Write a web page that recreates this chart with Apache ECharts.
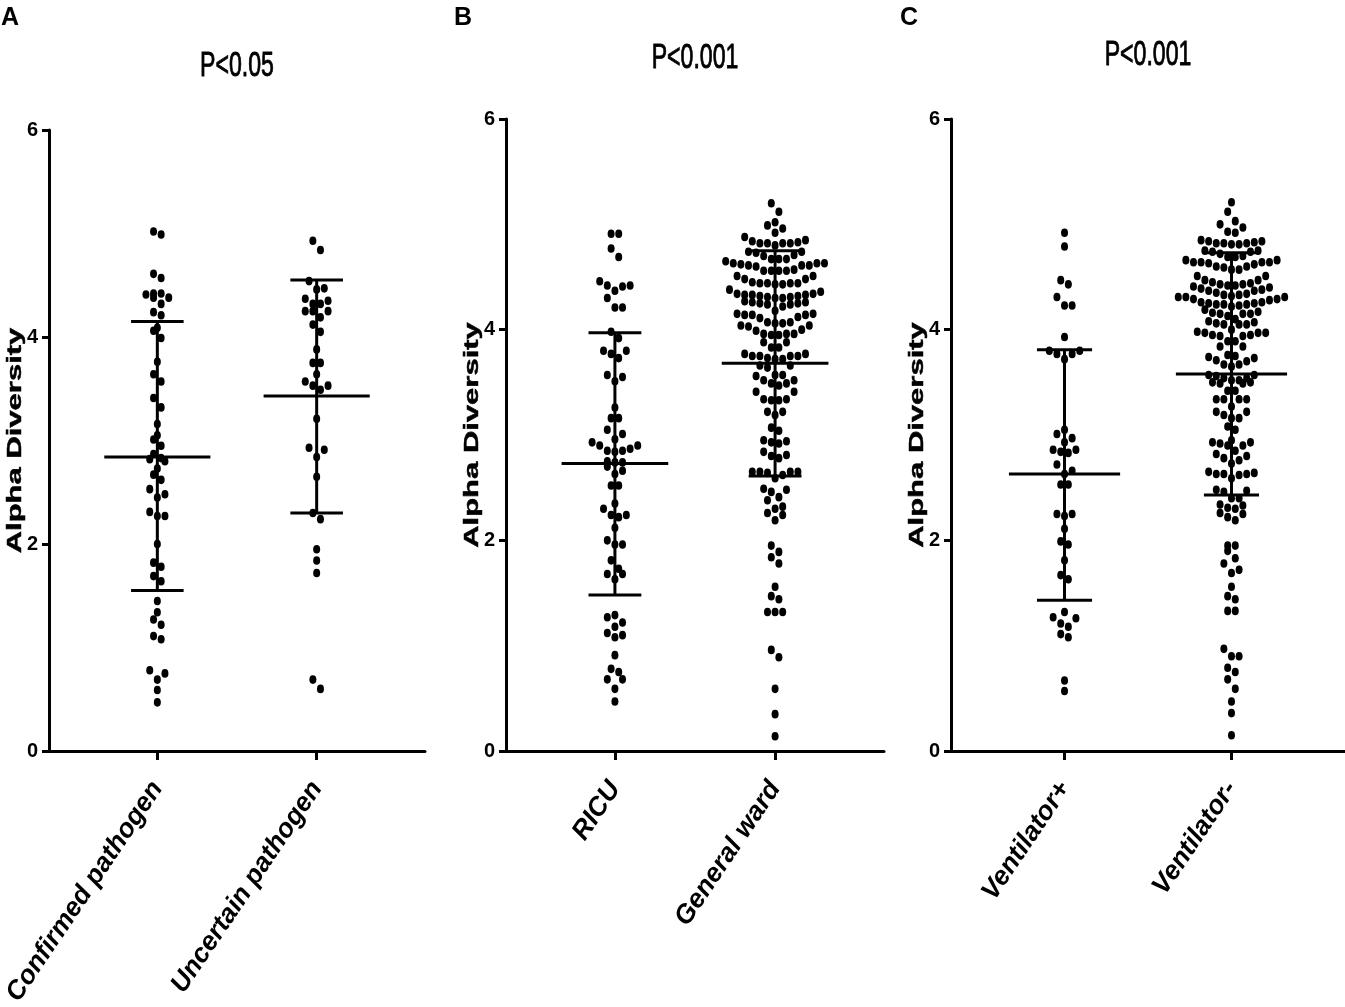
<!DOCTYPE html>
<html>
<head>
<meta charset="utf-8">
<title>Alpha Diversity</title>
<script src="https://cdn.jsdelivr.net/npm/echarts@6/dist/echarts.min.js"></script>
<style>
  html, body { margin: 0; padding: 0; background: #fff; }
  #main { width: 1345px; height: 1007px; }
</style>
</head>
<body>
<div id="main"></div>
<script>
// values (Alpha Diversity per sample)
var confirmedPathogen = [5.02, 4.99, 4.61, 4.57, 4.42, 4.38, 4.32, 4.38, 4.41, 4.42, 4.24, 4.21, 4.09, 4.06, 3.99,
    3.76, 3.64, 3.57, 3.41, 3.32, 3.16, 3.05, 3.01, 2.95, 2.87, 2.83, 2.82, 2.80, 2.73, 2.67, 2.62, 2.53, 2.48,
    2.45, 2.31, 2.27, 2.27, 2.00, 1.82, 1.78, 1.69, 1.64, 1.45, 1.34, 1.27, 1.22, 1.11, 1.08, 0.78, 0.75, 0.69,
    0.59, 0.47];
var uncertainPathogen = [4.93, 4.84, 4.54, 4.46, 4.47, 4.37, 4.32, 4.32, 4.35, 4.25, 4.25, 4.25, 4.19, 4.12, 4.05,
    3.88, 3.75, 3.75, 3.64, 3.57, 3.53, 3.49, 3.53, 3.21, 2.93, 2.91, 2.84, 2.65, 2.30, 2.24, 1.95, 1.84, 1.72,
    0.69, 0.60];
var ricu = [4.91, 4.91, 4.77, 4.69, 4.46, 4.42, 4.42, 4.41, 4.37, 4.30, 4.21, 4.21, 3.98, 3.92, 3.80, 3.80, 3.77,
    3.73, 3.57, 3.55, 3.51, 3.26, 3.16, 3.16, 3.05, 3.01, 2.96, 2.93, 2.90, 2.90, 2.87, 2.85, 2.85, 2.84, 2.75,
    2.74, 2.74, 2.70, 2.66, 2.63, 2.52, 2.52, 2.35, 2.30, 2.24, 2.24, 2.22, 2.12, 2.00, 1.96, 1.96, 1.81, 1.73,
    1.68, 1.68, 1.63, 1.29, 1.27, 1.22, 1.18, 1.12, 1.10, 1.08, 0.91, 0.78, 0.75, 0.68, 0.68, 0.59, 0.47];
var generalWard = [5.20, 5.12, 5.02, 4.99, 4.96, 4.92, 4.88,
    4.85, 4.84, 4.83, 4.82, 4.82, 4.82, 4.82, 4.80,
    4.74, 4.74, 4.73, 4.71, 4.70, 4.67, 4.67, 4.67,
    4.65, 4.63, 4.63, 4.63, 4.62, 4.61, 4.61, 4.61, 4.60, 4.57, 4.56, 4.56, 4.56, 4.56,
    4.51, 4.51, 4.48, 4.48, 4.45, 4.44, 4.44, 4.44, 4.44, 4.43, 4.43,
    4.38, 4.36, 4.34, 4.34, 4.33, 4.33, 4.33, 4.32, 4.32, 4.31, 4.31, 4.30, 4.30,
    4.27, 4.26, 4.26, 4.25, 4.25, 4.24, 4.24, 4.22,
    4.18, 4.15, 4.15, 4.14, 4.14, 4.14, 4.12, 4.11,
    4.07, 4.07, 4.06, 4.06, 4.04, 4.04, 4.03,
    4.00, 3.99, 3.96, 3.96, 3.96, 3.95, 3.95,
    3.88, 3.88, 3.83, 3.83,
    3.77, 3.77, 3.75, 3.75, 3.75, 3.75, 3.73, 3.72, 3.72,
    3.66, 3.66, 3.64,
    3.57, 3.57, 3.56, 3.52, 3.52, 3.49, 3.49, 3.47,
    3.41, 3.41, 3.34, 3.34, 3.33, 3.33,
    3.22, 3.22, 3.19, 3.07, 3.04,
    2.95, 2.94, 2.93, 2.92, 2.84, 2.81, 2.80, 2.78,
    2.65, 2.65, 2.65, 2.65, 2.64, 2.62, 2.59,
    2.49, 2.48, 2.46, 2.41, 2.38, 2.32, 2.30, 2.26, 2.24, 2.19,
    1.95, 1.89, 1.84, 1.78, 1.56, 1.47, 1.44, 1.32, 1.32, 1.32, 0.96, 0.89, 0.59, 0.35, 0.14];
var ventilatorPlus = [4.92, 4.79, 4.47, 4.43, 4.31, 4.23, 4.23, 3.93, 3.80, 3.80, 3.77, 3.77, 3.72, 3.05, 3.01,
    2.97, 2.93, 2.86, 2.86, 2.84, 2.83, 2.72, 2.66, 2.63, 2.53, 2.53, 2.25, 2.25, 2.23, 2.11, 1.99, 1.96, 1.81,
    1.67, 1.63, 1.32, 1.27, 1.26, 1.21, 1.18, 1.11, 1.08, 0.67, 0.57];
var ventilatorMinus = [5.21, 5.12, 5.03, 5.00, 4.97, 4.93, 4.92,
    4.85, 4.84, 4.82, 4.82, 4.81, 4.81, 4.82, 4.83, 4.84,
    4.75, 4.74, 4.72, 4.70, 4.69, 4.69, 4.74, 4.75,
    4.66, 4.64, 4.64, 4.63, 4.60, 4.57, 4.57, 4.59, 4.60, 4.62, 4.64, 4.64, 4.66,
    4.51, 4.47, 4.45, 4.43, 4.42, 4.41, 4.39, 4.40, 4.43, 4.42, 4.44, 4.47, 4.51,
    4.37, 4.33, 4.32, 4.31, 4.31, 4.29, 4.28, 4.29, 4.31, 4.33, 4.34, 4.35, 4.37, 4.38,
    4.26, 4.25, 4.24, 4.23, 4.24, 4.22, 4.24, 4.25, 4.26,
    4.19, 4.16, 4.15, 4.15, 4.17, 4.15,
    4.13, 4.08, 4.05, 4.05, 4.05, 4.06, 4.07, 4.10,
    4.00, 3.97, 3.95, 3.94, 3.94, 3.97, 3.95, 3.97, 3.98,
    3.89, 3.89, 3.84, 3.84,
    3.76, 3.74, 3.71, 3.67, 3.67, 3.65, 3.70, 3.73, 3.75,
    3.57, 3.54, 3.52, 3.50, 3.49, 3.49, 3.50, 3.52, 3.54, 3.56, 3.57,
    3.42, 3.42, 3.34, 3.34, 3.34, 3.34,
    3.27, 3.22, 3.16, 3.16, 3.19, 3.22, 3.05, 3.08,
    2.93, 2.92, 2.90, 2.85, 2.90, 2.93, 2.95,
    2.82, 2.78, 2.73, 2.76, 2.80,
    2.64, 2.63, 2.62, 2.59, 2.63, 2.63, 2.65,
    2.48, 2.46, 2.47, 2.40, 2.40, 2.30, 2.34, 2.33, 2.31, 2.25, 2.19, 2.22, 2.26,
    1.95, 1.95, 1.90, 1.83, 1.78, 1.72, 1.69, 1.56, 1.47, 1.44, 1.33, 1.33,
    0.97, 0.90, 0.90, 0.79, 0.75, 0.68, 0.59, 0.47, 0.36, 0.15];

// group means and mean +/- SD as drawn
var meanA = [2.84, 3.43], upperA = [4.15, 4.55], lowerA = [1.55, 2.30];
var meanB = [2.73, 3.68], upperB = [3.97, 4.75], lowerB = [1.48, 2.61];
var meanC = [2.63, 3.58], upperC = [3.81, 4.73], lowerC = [1.43, 2.43];

var catsA = ['Confirmed pathogen', 'Uncertain pathogen'];
var catsB = ['RICU', 'General ward'];
var catsC = ['Ventilator+', 'Ventilator-'];
var pTexts = ['P<0.05', 'P<0.001', 'P<0.001'];
var yTitle = 'Alpha Diversity';
var yTicks = [0, 2, 4, 6];

var SANS = "'Liberation Sans', Arial, sans-serif";
var CAT_POS = [0.68, 1.68];
var X_MAX = 2.36;
var DOT_GAP = 7.6;   // px between neighbours in a row
var ROW_H = 10;      // px, values closer than this share a row

var panels = [
    { left: 49, top: 130, width: 376, height: 621, cats: catsA, groups: [confirmedPathogen, uncertainPathogen], mean: meanA, up: upperA, lo: lowerA },
    { left: 506, top: 119, width: 378, height: 632, cats: catsB, groups: [ricu, generalWard], mean: meanB, up: upperB, lo: lowerB },
    { left: 951, top: 119, width: 394, height: 632, cats: catsC, groups: [ventilatorPlus, ventilatorMinus], mean: meanC, up: upperC, lo: lowerC }
];

// prism style dot layout: bin close values into a row, spread the row from the centre out
function rowOffsets(vals, pxPerY) {
    var idx = vals.map(function (v, i) { return i; }).sort(function (a, b) { return vals[a] - vals[b]; });
    var out = [];
    var k = 0;
    while (k < idx.length) {
        var row = [idx[k]], start = vals[idx[k]];
        k++;
        while (k < idx.length && (vals[idx[k]] - start) * pxPerY < ROW_H) { row.push(idx[k]); k++; }
        var n = row.length;
        row.forEach(function (id, j) {
            var slot = n % 2 ? Math.ceil(j / 2) * (j % 2 ? 1 : -1)
                             : (Math.floor(j / 2) + 0.5) * (j % 2 ? -1 : 1);
            out[id] = slot * DOT_GAP;
        });
    }
    return out;
}

var chart = echarts.init(document.getElementById('main'));

var grids = [], xAxes = [], yAxes = [], series = [], graphics = [];
var letters = ['A', 'B', 'C'];
var letterX = [1, 454, 900];
var titleY = [66, 58, 55];
var yTitleGap = 34;   // axis line to centre of the rotated y title

panels.forEach(function (p, pi) {
    // fixed plot boxes, don't let v6 shrink them to fit the long rotated labels
    grids.push({ left: p.left, top: p.top, width: p.width, height: p.height, outerBoundsMode: 'none' });
    xAxes.push({
        type: 'value', gridIndex: pi, min: 0, max: X_MAX,
        axisLine: { lineStyle: { color: '#000', width: 3 } },
        axisTick: { customValues: CAT_POS, length: 9, lineStyle: { color: '#000', width: 3 } },
        axisLabel: {
            customValues: CAT_POS, rotate: 56, margin: 33,
            color: '#000', fontFamily: SANS, fontSize: 26.5, fontStyle: 'italic', fontWeight: 'bold',
            formatter: function (v) { return p.cats[Math.round(v - CAT_POS[0])]; }
        },
        splitLine: { show: false }
    });
    yAxes.push({
        type: 'value', gridIndex: pi, min: 0, max: 6, interval: 2,
        axisLine: { show: true, lineStyle: { color: '#000', width: 3 } },
        axisTick: { show: true, length: 7, lineStyle: { color: '#000', width: 3 } },
        axisLabel: { customValues: yTicks, margin: 11, color: '#000', fontFamily: SANS, fontSize: 20, fontWeight: 'bold' },
        splitLine: { show: false }
    });

    var pxPerX = p.width / X_MAX, pxPerY = p.height / 6;
    var pts = [];
    p.groups.forEach(function (vals, gi) {
        var offs = rowOffsets(vals, pxPerY);
        vals.forEach(function (v, i) { pts.push([CAT_POS[gi] + offs[i] / pxPerX, v]); });
    });
    series.push({
        type: 'scatter', xAxisIndex: pi, yAxisIndex: pi, data: pts,
        symbol: 'circle', symbolSize: [7, 8.6],
        itemStyle: { color: '#000', opacity: 1 }, silent: true, z: 2
    });

    var bars = CAT_POS.map(function (c, gi) { return [c, p.mean[gi], p.lo[gi], p.up[gi]]; });
    series.push({
        type: 'custom', xAxisIndex: pi, yAxisIndex: pi, data: bars, silent: true, z: 3,
        renderItem: function (params, api) {
            var c = api.value(0);
            var st = { stroke: '#000', lineWidth: 3 };
            function seg(x1, y1, x2, y2) {
                var a = api.coord([x1, y1]), b = api.coord([x2, y2]);
                return { type: 'line', shape: { x1: a[0], y1: a[1], x2: b[0], y2: b[1] }, style: st };
            }
            return {
                type: 'group',
                children: [
                    seg(c - 0.333, api.value(1), c + 0.333, api.value(1)),
                    seg(c - 0.165, api.value(2), c + 0.165, api.value(2)),
                    seg(c - 0.165, api.value(3), c + 0.165, api.value(3)),
                    seg(c, api.value(2), c, api.value(3))
                ]
            };
        }
    });

    graphics.push({
        type: 'text', left: letterX[pi], top: 6,
        style: { text: letters[pi], font: 'bold 25px ' + SANS, fill: '#000' }
    });
    // the figure is squeezed sideways, so these texts are narrowed the same way
    graphics.push({
        type: 'text', x: p.left + (CAT_POS[0] + CAT_POS[1]) / 2 * pxPerX, y: titleY[pi], scaleX: 0.66,
        style: { text: pTexts[pi], font: '35px ' + SANS, fill: '#000', stroke: '#000', lineWidth: 0.9,
                 align: 'center', verticalAlign: 'middle' }
    });
    graphics.push({
        type: 'text', x: p.left - yTitleGap, y: p.top + p.height / 2, rotation: Math.PI / 2, scaleY: 0.68,
        style: { text: yTitle, font: 'bold 31px ' + SANS, fill: '#000', stroke: '#000', lineWidth: 0.7,
                 align: 'center', verticalAlign: 'middle' }
    });
});

chart.setOption({
    backgroundColor: '#fff',
    animation: false,
    grid: grids,
    xAxis: xAxes,
    yAxis: yAxes,
    series: series,
    graphic: graphics
});
</script>
</body>
</html>
